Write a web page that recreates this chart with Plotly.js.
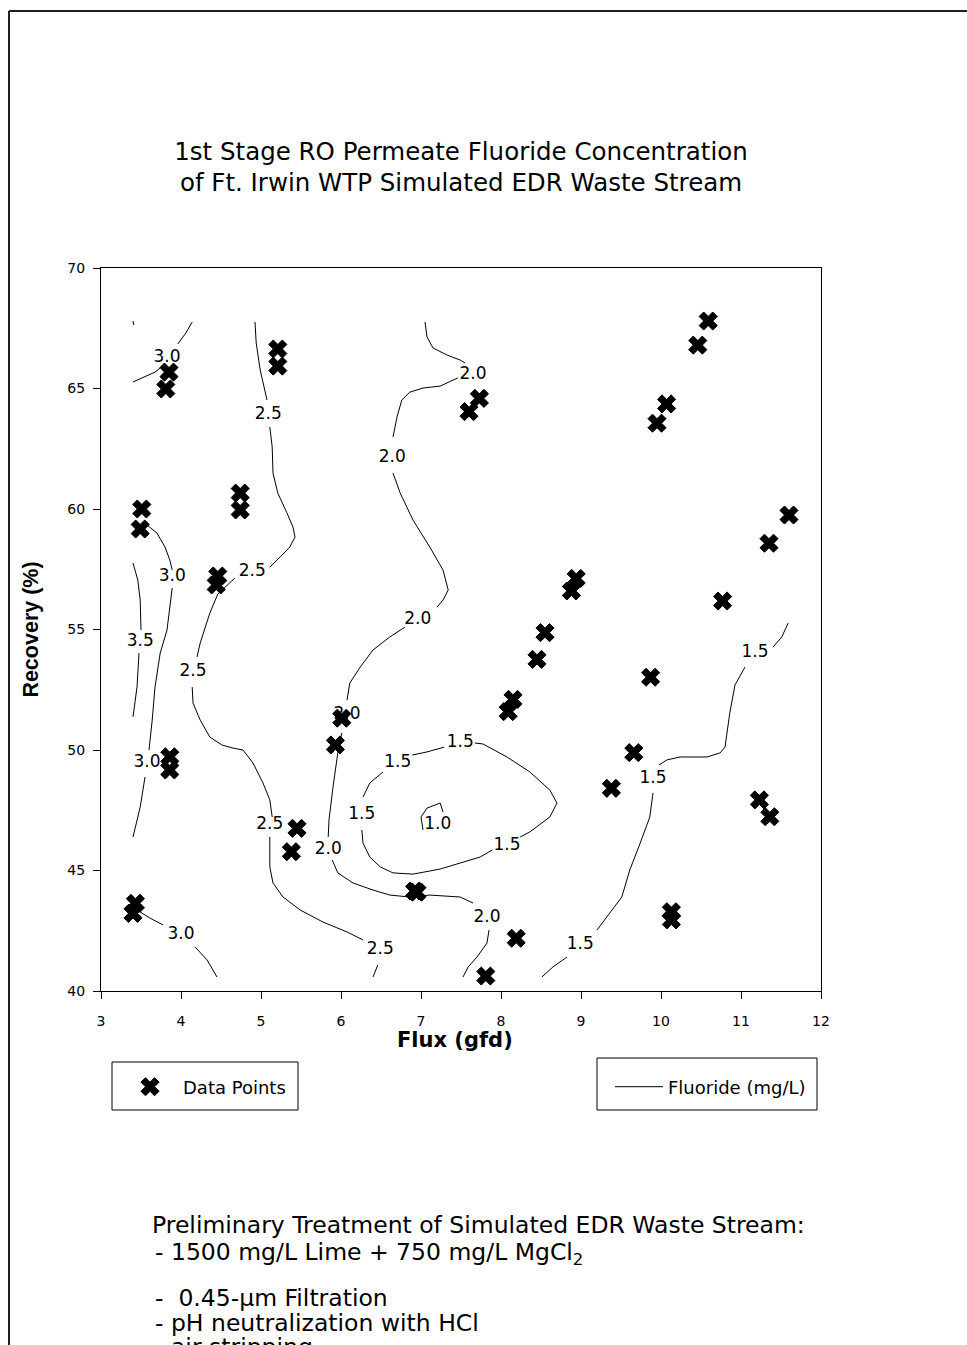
<!DOCTYPE html>
<html>
<head>
<meta charset="utf-8">
<script src="https://cdn.plot.ly/plotly-3.0.1.min.js"></script>
<style>
  html, body { margin: 0; padding: 0; background: #ffffff; }
  #chart { width: 967px; height: 1345px; }
</style>
</head>
<body>
<div id="chart"></div>
<script>
// Measured data points: flux (gfd) vs. recovery (%)
const fluxPoints = [3.81, 3.85, 5.21, 5.21, 3.51, 3.49, 4.74, 4.74, 4.46, 4.44,
  10.59, 10.46, 10.07, 9.95, 7.73, 7.60, 11.60, 11.35, 8.94, 8.88, 10.77,
  8.55, 8.45, 8.15, 8.09, 9.87, 9.66, 9.38, 11.23, 11.36, 10.13, 10.13,
  8.19, 7.81, 6.01, 5.93, 3.86, 3.86, 5.45, 5.38, 6.92, 6.95, 3.43, 3.40];
const recoveryPoints = [64.98, 65.68, 66.64, 65.93, 60.00, 59.17, 60.66, 59.96, 57.22, 56.85,
  67.80, 66.80, 64.36, 63.56, 64.59, 64.04, 59.75, 58.58, 57.12, 56.60, 56.18,
  54.87, 53.76, 52.10, 51.59, 53.02, 49.89, 48.41, 47.93, 47.23, 43.29, 42.95,
  42.19, 40.62, 51.32, 50.21, 49.72, 49.17, 46.75, 45.78, 44.15, 44.10, 43.64, 43.22];

// Fluoride iso-lines (mg/L); null breaks the line where a level label sits
const c35CornerX = [3.40, 3.41];
const c35CornerY = [67.80, 67.63];

const c30TopX = [3.40, 3.55, 3.675, 3.74, null, 3.96, 4.06, 4.14];
const c30TopY = [65.27, 65.48, 65.68, 65.85, null, 66.85, 67.30, 67.76];

const c25X = [4.925, 4.94, 4.99, 5.075, null,
  5.11, 5.14, 5.15, 5.21, 5.325, 5.40, 5.425, 5.36, 5.24, 5.11, null,
  4.675, 4.56, 4.46, 4.36, 4.29, 4.24, 4.20, null,
  4.14, 4.15, 4.24, 4.36, 4.51, 4.65, 4.775, 4.90, 5.025, 5.11, 5.14, null,
  5.11, 5.11, 5.15, 5.275, 5.49, 5.775, 6.075, 6.275, null,
  6.46, 6.40];
const c25Y = [67.76, 66.89, 65.77, 64.52, null,
  63.40, 62.57, 61.49, 60.66, 59.83, 59.25, 58.83, 58.42, 58.01, 57.59, null,
  57.14, 56.80, 56.47, 55.68, 54.98, 54.44, 53.86, null,
  52.61, 51.95, 51.24, 50.54, 50.21, 50.08, 50.00, 49.46, 48.63, 47.93, 47.22, null,
  46.39, 45.15, 44.48, 43.90, 43.36, 42.86, 42.45, 42.12, null,
  41.08, 40.58];

const c30MidX = [3.575, 3.70, 3.80, 3.86, 3.89, null,
  3.89, 3.86, 3.825, 3.74, 3.675, 3.64, 3.60, null,
  3.55, 3.49, 3.40];
const c30MidY = [59.34, 59.00, 58.42, 57.88, 57.47, null,
  56.72, 55.93, 54.98, 54.02, 52.61, 51.24, 50.00, null,
  48.88, 47.63, 46.39];

const c35X = [3.40, 3.46, 3.49, 3.50, null, 3.475, 3.45, 3.40];
const c35Y = [57.76, 57.05, 56.22, 54.98, null, 54.02, 52.61, 51.37];

const c30LowX = [3.45, 3.61, 3.775, null, 4.175, 4.325, 4.45];
const c30LowY = [43.36, 43.03, 42.74, null, 41.83, 41.29, 40.58];

const c20X = [7.05, 7.075, 7.15, 7.325, 7.49, 7.55, null,
  7.46, 7.24, 7.025, 6.86, 6.76, 6.70, 6.65, null,
  6.65, 6.74, 6.90, 7.11, 7.275, 7.34, 7.275, 7.20, null,
  6.80, 6.61, 6.40, 6.24, 6.11, 6.075, null,
  6.01, 5.96, 5.90, 5.85, 5.84, null,
  5.89, 5.96, 6.15, 6.40, 6.61, 6.86, 7.11, 7.49, 7.65, null,
  7.85, 7.825, 7.70, 7.59, 7.525];
const c20Y = [67.76, 67.14, 66.68, 66.39, 66.18, 66.06, null,
  65.44, 65.10, 65.02, 64.85, 64.52, 63.82, 62.99, null,
  61.49, 60.66, 59.54, 58.42, 57.47, 56.64, 56.22, 55.93, null,
  55.10, 54.69, 54.15, 53.44, 52.78, 52.07, null,
  50.71, 49.88, 48.46, 47.10, 46.39, null,
  45.44, 44.90, 44.48, 44.19, 43.98, 43.90, 43.98, 43.90, 43.65, null,
  42.53, 41.99, 41.41, 41.00, 40.58];

const c15LoopX = [7.675, 7.775, 8.075, 8.36, 8.61, 8.70, 8.61, 8.36, 8.24, null,
  7.89, 7.74, 7.49, 7.24, 6.90, 6.65, 6.49, 6.36, 6.275, 6.26, null,
  6.275, 6.36, 6.525, null,
  6.89, 7.075, 7.29];
const c15LoopY = [50.29, 50.25, 49.71, 49.09, 48.34, 47.80, 47.22, 46.60, 46.39, null,
  45.85, 45.56, 45.31, 45.06, 44.85, 44.90, 45.15, 45.56, 46.14, 46.68, null,
  48.05, 48.63, 49.09, null,
  49.79, 49.92, 50.12];

const c10X = [7.025, 7.00, 7.075, 7.24, 7.275];
const c10Y = [46.68, 47.22, 47.59, 47.80, 47.43];

const c15RightX = [11.59, 11.51, 11.40, null,
  11.05, 10.925, 10.86, 10.80, 10.74, 10.575, 10.24, 10.075, 9.975, null,
  9.90, 9.86, 9.74, 9.61, 9.51, 9.36, 9.20, null,
  8.825, 8.65, 8.51];
const c15RightY = [55.27, 54.69, 54.27, null,
  53.44, 52.70, 51.54, 50.12, 49.88, 49.71, 49.71, 49.59, 49.38, null,
  48.22, 47.22, 46.14, 45.02, 43.90, 43.24, 42.53, null,
  41.41, 41.00, 40.58];

// Level labels placed in the gaps of the iso-lines
const labelX = [3.825, 5.09, 4.89, 4.15, 5.11, 6.49, 3.89, 3.575, 3.49, 4.00,
  7.65, 6.64, 6.96, 6.075, 5.84, 7.825, 7.49, 8.075, 6.26, 6.71, 7.21, 11.175, 9.90, 8.99];
const labelY = [66.27, 63.90, 57.39, 53.24, 46.89, 41.70, 57.18, 49.46, 54.48, 42.32,
  65.56, 62.12, 55.39, 51.45, 45.85, 43.03, 50.29, 46.02, 47.30, 49.46, 46.89, 54.02, 48.80, 41.91];
const labelText = ['3.0', '2.5', '2.5', '2.5', '2.5', '2.5', '3.0', '3.0', '3.5', '3.0',
  '2.0', '2.0', '2.0', '2.0', '2.0', '2.0', '1.5', '1.5', '1.5', '1.5', '1.0', '1.5', '1.5', '1.5'];

const xTicks = [3, 4, 5, 6, 7, 8, 9, 10, 11, 12];
const yTicks = [40, 45, 50, 55, 60, 65, 70];

const notes = [
  'Preliminary Treatment of Simulated EDR Waste Stream:',
  '- 1500 mg/L Lime + 750 mg/L MgCl<sub>2</sub>',
  '-\u00a0\u00a00.45-\u03bcm Filtration',
  '- pH neutralization with HCl',
  '- air stripping'
];
const notesRow = [1225, 1253, 1298, 1323, 1347];   // page-pixel rows of the note lines

// ---- drawing ----
const FONT = 'DejaVu Sans, Verdana, sans-serif';
const FONT_NARROW = 'Liberation Sans, Arial, Helvetica, sans-serif';
const box = { l: 101, r: 821, t: 268, b: 991 };   // plot area in page pixels
const W = 967, H = 1345;
const fx = p => (p - box.l) / (box.r - box.l);     // page px -> paper x
const fy = p => (box.b - p) / (box.b - box.t);     // page px -> paper y

function joinLines(pairs) {
  const xs = [], ys = [];
  pairs.forEach(([a, b], i) => {
    if (i > 0) { xs.push(null); ys.push(null); }
    xs.push(...a); ys.push(...b);
  });
  return { xs, ys };
}
const iso = joinLines([
  [c35CornerX, c35CornerY], [c30TopX, c30TopY], [c25X, c25Y], [c30MidX, c30MidY],
  [c35X, c35Y], [c30LowX, c30LowY], [c20X, c20Y], [c15LoopX, c15LoopY],
  [c10X, c10Y], [c15RightX, c15RightY]
]);

const traces = [
  {
    type: 'scatter', mode: 'lines', name: 'Fluoride (mg/L)',
    x: iso.xs, y: iso.ys, connectgaps: false,
    line: { color: '#000000', width: 1 },
    legend: 'legend2', hoverinfo: 'skip'
  },
  {
    type: 'scatter', mode: 'text', showlegend: false,
    x: labelX, y: labelY, text: labelText,
    textposition: 'middle center',
    textfont: { family: FONT, size: 17, color: '#000000' },
    cliponaxis: false, hoverinfo: 'skip'
  },
  {
    type: 'scatter', mode: 'markers', name: 'Data Points',
    x: fluxPoints, y: recoveryPoints,
    marker: { symbol: 'x', size: 16, color: '#000000', line: { color: '#000000', width: 1 } },
    legend: 'legend', cliponaxis: false
  }
];

const annotations = notes.map((t, i) => ({
  text: t, showarrow: false, xref: 'paper', yref: 'paper',
  x: fx(i === 0 ? 150 : 153), y: fy(notesRow[i]),
  xanchor: 'left', yanchor: 'middle', align: 'left',
  font: { family: FONT, size: 23.5, color: '#000000' }
}));
// x-axis title, set just under the tick labels
annotations.push({
  text: 'Flux (gfd)', showarrow: false, xref: 'paper', yref: 'paper',
  x: fx(455), y: fy(1040), xanchor: 'center', yanchor: 'middle',
  font: { family: FONT, size: 21, weight: 'bold', color: '#000000' }
});

const shapes = [
  // page frame (top and left edges)
  { type: 'line', xref: 'paper', yref: 'paper', x0: fx(9), x1: fx(W + 5), y0: fy(11), y1: fy(11),
    line: { color: '#231f20', width: 2 } },
  { type: 'line', xref: 'paper', yref: 'paper', x0: fx(9), x1: fx(9), y0: fy(11), y1: fy(H + 5),
    line: { color: '#231f20', width: 2 } },
  // legend frames
  { type: 'rect', xref: 'paper', yref: 'paper', x0: fx(112), x1: fx(298), y0: fy(1062), y1: fy(1110),
    line: { color: '#000000', width: 1 }, fillcolor: 'rgba(0,0,0,0)' },
  { type: 'rect', xref: 'paper', yref: 'paper', x0: fx(597), x1: fx(817), y0: fy(1058), y1: fy(1110),
    line: { color: '#000000', width: 1 }, fillcolor: 'rgba(0,0,0,0)' }
];

const axisCommon = {
  showline: true, linecolor: '#000000', linewidth: 1, mirror: true,
  ticks: 'outside', ticklen: 7, tickcolor: '#000000', tickwidth: 1,
  showgrid: false, zeroline: false,
  tickfont: { family: FONT, size: 14, color: '#000000' }
};

const layout = {
  width: W, height: H,
  margin: { l: box.l, r: W - box.r, t: box.t, b: H - box.b, pad: 0 },
  paper_bgcolor: '#ffffff', plot_bgcolor: '#ffffff',
  font: { family: FONT, color: '#000000' },
  title: {
    text: '1st Stage RO Permeate Fluoride Concentration<br>of Ft. Irwin WTP Simulated EDR Waste Stream',
    font: { family: FONT, size: 24.5, color: '#000000' },
    xref: 'paper', x: 0.5, xanchor: 'center',
    yref: 'container', y: 1 - 159.5 / H, yanchor: 'middle'
  },
  xaxis: Object.assign({}, axisCommon, {
    range: [3, 12], tickvals: xTicks, ticklabelstandoff: 10
  }),
  yaxis: Object.assign({}, axisCommon, {
    range: [40, 70], tickvals: yTicks, ticklabelstandoff: 5,
    title: { text: 'Recovery (%)', font: { family: FONT_NARROW, size: 21.5, weight: 'bold', color: '#000000' }, standoff: 22 }
  }),
  showlegend: true,
  legend: {
    x: fx(117), y: fy(1087), xanchor: 'left', yanchor: 'middle',
    bgcolor: 'rgba(0,0,0,0)', borderwidth: 0, itemwidth: 56,
    font: { family: FONT, size: 18, color: '#000000' }
  },
  legend2: {
    x: fx(610), y: fy(1087), xanchor: 'left', yanchor: 'middle',
    bgcolor: 'rgba(0,0,0,0)', borderwidth: 0, itemwidth: 48,
    font: { family: FONT, size: 18, color: '#000000' }
  },
  annotations: annotations,
  shapes: shapes
};

Plotly.newPlot('chart', traces, layout, { staticPlot: true, displayModeBar: false });
</script>
</body>
</html>
